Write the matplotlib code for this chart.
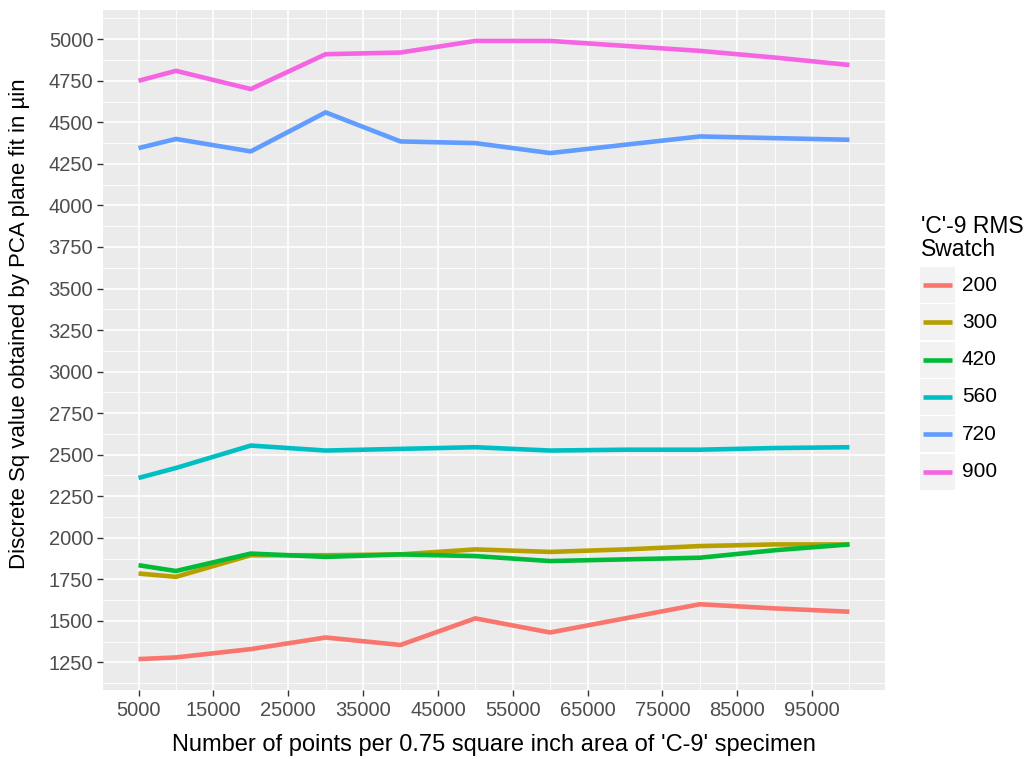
import matplotlib
matplotlib.use("Agg")
import matplotlib.pyplot as plt
from matplotlib.lines import Line2D
from matplotlib.patches import Rectangle
from matplotlib.ticker import FixedLocator

plt.rcParams['font.family'] = ['Liberation Sans', 'DejaVu Sans']

# Number of sampled points per specimen area
n_points = [5000, 10000, 20000, 30000, 40000, 50000, 60000, 70000, 80000, 90000, 100000]

swatches = ["200", "300", "420", "560", "720", "900"]
colors = ["#F8766D", "#B79F00", "#00BA38", "#00BFC4", "#619CFF", "#F564E3"]

sq_200 = [1270, 1280, 1330, 1400, 1355, 1515, 1430, 1515, 1600, 1575, 1555]
sq_300 = [1785, 1765, 1895, 1895, 1900, 1930, 1915, 1930, 1950, 1960, 1960]
sq_420 = [1835, 1800, 1905, 1885, 1900, 1890, 1860, 1870, 1880, 1925, 1960]
sq_560 = [2360, 2420, 2555, 2525, 2535, 2545, 2525, 2530, 2530, 2540, 2545]
sq_720 = [4345, 4400, 4325, 4560, 4385, 4375, 4315, 4365, 4415, 4405, 4395]
sq_900 = [4750, 4810, 4700, 4910, 4920, 4990, 4990, 4960, 4930, 4890, 4845]

series = [sq_200, sq_300, sq_420, sq_560, sq_720, sq_900]

x_ticks = [5000, 15000, 25000, 35000, 45000, 55000, 65000, 75000, 85000, 95000]
y_ticks = [1250, 1500, 1750, 2000, 2250, 2500, 2750, 3000, 3250, 3500,
           3750, 4000, 4250, 4500, 4750, 5000]

W, H = 1029, 759
fig = plt.figure(figsize=(W / 100, H / 100), dpi=100)
fig.patch.set_facecolor("white")

# panel in pixel coordinates
px0, px1, py0, py1 = 103, 885, 10, 690
ax = fig.add_axes([px0 / W, 1 - py1 / H, (px1 - px0) / W, (py1 - py0) / H])
ax.set_facecolor("#EBEBEB")

lw = 3.3
for vals, col in zip(series, colors):
    ax.plot(n_points, vals, color=col, lw=lw, solid_capstyle="butt",
            solid_joinstyle="round", zorder=3)

# ggplot-style 5% expansion
xmin, xmax = min(n_points), max(n_points)
allv = [v for s in series for v in s]
ymin, ymax = min(allv), max(allv)
xr, yr = xmax - xmin, ymax - ymin
ax.set_xlim(xmin - 0.05 * xr, xmax + 0.05 * xr)
ax.set_ylim(ymin - 0.05 * yr, ymax + 0.05 * yr)

ax.xaxis.set_major_locator(FixedLocator(x_ticks))
ax.xaxis.set_minor_locator(FixedLocator([t + 5000 for t in x_ticks]))
ax.yaxis.set_major_locator(FixedLocator(y_ticks))
ax.yaxis.set_minor_locator(FixedLocator([t - 125 for t in y_ticks] + [5125]))
ax.set_xticklabels([str(t) for t in x_ticks])
ax.set_yticklabels([str(t) for t in y_ticks])

ax.grid(which="major", color="white", lw=1.2, zorder=1)
ax.grid(which="minor", color="white", lw=0.6, zorder=1)
ax.set_axisbelow(True)
for sp in ax.spines.values():
    sp.set_visible(False)

ax.tick_params(which="major", length=4, width=1, color="#333333",
               labelsize=14.5, labelcolor="#4D4D4D", pad=4)
ax.tick_params(axis="y", which="major", pad=3)
ax.tick_params(which="minor", length=0)

fig.text(494 / W, 1 - 745 / H,
         "Number of points per 0.75 square inch area of 'C-9' specimen",
         ha="center", va="center", fontsize=17, color="black")
fig.text(20 / W, 1 - 324 / H,
         "Discrete Sq value obtained by PCA plane fit in \u00b5in",
         ha="center", va="center", rotation=90, fontsize=16, color="black")

# legend
fig.text(921 / W, 1 - 238 / H, "'C'-9 RMS\nSwatch", ha="left", va="center",
         fontsize=16.5, color="black", linespacing=1.0)
key_y0 = 285
key_dy = 37.3
for i, (lab, col) in enumerate(zip(swatches, colors)):
    yc = key_y0 + i * key_dy
    fig.patches.append(Rectangle((920 / W, 1 - (yc + 18) / H), 35 / W, 36 / H,
                                 transform=fig.transFigure, facecolor="#F2F2F2",
                                 edgecolor="none", zorder=1))
    fig.lines.append(Line2D([923 / W, 952 / W], [1 - yc / H, 1 - yc / H],
                            transform=fig.transFigure, color=col, lw=lw,
                            solid_capstyle="butt", zorder=2))
    fig.text(962 / W, 1 - yc / H, lab, ha="left", va="center",
             fontsize=15, color="black")

fig.savefig("out.png", dpi=100, facecolor="white")
